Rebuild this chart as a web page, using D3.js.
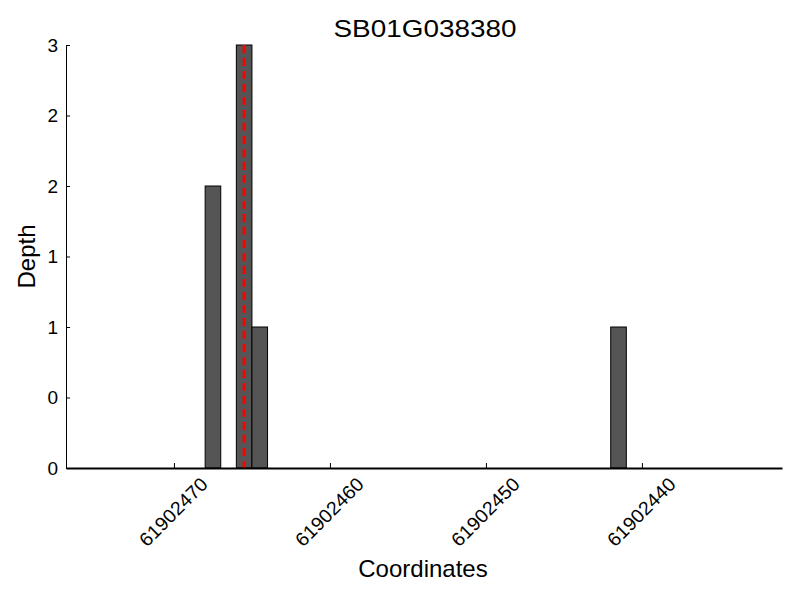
<!DOCTYPE html>
<html>
<head>
<meta charset="utf-8">
<script src="https://cdn.jsdelivr.net/npm/d3@7"></script>
<style>
  body { margin: 0; background: #fff; }
  text { font-family: "Liberation Sans", Arial, sans-serif; fill: #000; }
</style>
</head>
<body>
<div id="chart"></div>
<script>
// bin start coordinate (each bar covers start..start+1) and read depth
const binStarts = [61902467, 61902465, 61902464, 61902441];
const depths = [2, 3, 1, 1];
const xTicks = [61902470, 61902460, 61902450, 61902440];
const yTicks = [0, 0.5, 1, 1.5, 2, 2.5, 3];
const xDomain = [61902476.92, 61902431.02]; // reversed axis
const yDomain = [0, 3];
const markerPos = 61902465.5;
const titleText = "SB01G038380";

const width = 800, height = 600;
const margin = { top: 45, right: 18, bottom: 132, left: 66 };

const svg = d3.select("#chart")
  .append("svg")
  .attr("width", width)
  .attr("height", height);

const xScale = d3.scaleLinear()
  .domain(xDomain)
  .range([margin.left, width - margin.right]);

const yScale = d3.scaleLinear()
  .domain(yDomain)
  .range([height - margin.bottom, margin.top]);

const y0 = yScale(0);

// bars
svg.append("g")
  .selectAll("rect")
  .data(binStarts.map((s, i) => ({ start: s, depth: depths[i] })))
  .enter().append("rect")
  .attr("x", d => xScale(d.start + 1))
  .attr("width", d => xScale(d.start) - xScale(d.start + 1))
  .attr("y", d => yScale(d.depth))
  .attr("height", d => y0 - yScale(d.depth))
  .attr("fill", "#555555")
  .attr("stroke", "#000")
  .attr("stroke-width", 1);

// marker line
svg.append("line")
  .attr("x1", xScale(markerPos))
  .attr("x2", xScale(markerPos))
  .attr("y1", yScale(yDomain[1]))
  .attr("y2", y0)
  .attr("stroke", "#ff0000")
  .attr("stroke-width", 3)
  .attr("stroke-dasharray", "8,5");

// x axis: ticks point inward, labels rotated
const xAxis = d3.axisBottom(xScale)
  .tickValues(xTicks)
  .tickSizeInner(-5)
  .tickSizeOuter(0)
  .tickFormat("");

const gx = svg.append("g")
  .attr("transform", `translate(0,${y0})`)
  .call(xAxis);
gx.select(".domain").attr("stroke-width", 2);

gx.selectAll(".tick")
  .append("text")
  .attr("transform", "translate(-1,44) rotate(-45)")
  .attr("text-anchor", "middle")
  .attr("dominant-baseline", "central")
  .attr("textLength", 88)
  .attr("lengthAdjust", "spacingAndGlyphs")
  .style("font-size", "19px")
  .style("fill", "#000")
  .text(d => d);

// y axis
const yAxis = d3.axisLeft(yScale)
  .tickValues(yTicks)
  .tickSizeInner(-4)
  .tickSizeOuter(0)
  .tickPadding(8)
  .tickFormat(d => Math.floor(d));

const gy = svg.append("g")
  .attr("transform", `translate(${margin.left},0)`)
  .call(yAxis);

gy.selectAll("text")
  .style("font-size", "19px")
  .style("fill", "#000");

// title
svg.append("text")
  .attr("x", 425)
  .attr("y", 37)
  .attr("text-anchor", "middle")
  .attr("textLength", 183)
  .attr("lengthAdjust", "spacingAndGlyphs")
  .style("font-size", "24px")
  .text(titleText);

// axis labels
svg.append("text")
  .attr("x", 423)
  .attr("y", 577)
  .attr("text-anchor", "middle")
  .style("font-size", "24px")
  .text("Coordinates");

svg.append("text")
  .attr("transform", `translate(35,${(margin.top + y0) / 2}) rotate(-90)`)
  .attr("text-anchor", "middle")
  .style("font-size", "24px")
  .text("Depth");
</script>
</body>
</html>
